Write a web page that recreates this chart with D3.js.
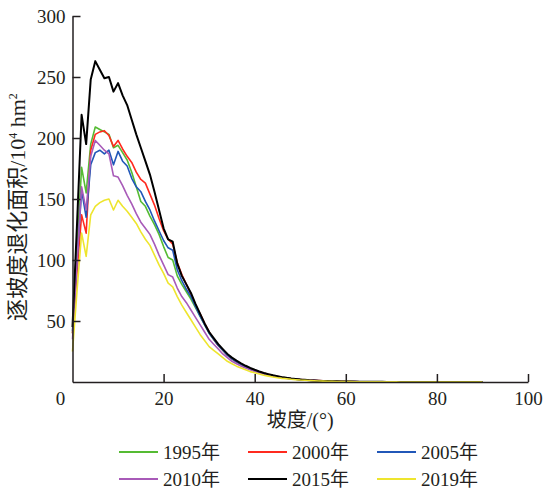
<!DOCTYPE html>
<html>
<head>
<meta charset="utf-8">
<script src="https://cdn.jsdelivr.net/npm/d3@7"></script>
<style>
  body { margin: 0; background: #fff; }
  svg { display: block; }
</style>
</head>
<body>
<svg id="chart" width="546" height="493"></svg>
<script>
  // slope in degrees, one point per degree
  const slopes = d3.range(0, 91);

  const years = ['1995年', '2000年', '2005年', '2010年', '2015年', '2019年'];
  const colors = ['#55bb33', '#ff2a1f', '#2157b8', '#a85ab8', '#000000', '#eee52e'];

  const v1995 = [40, 110, 176, 155, 195, 209, 207, 205, 203, 192,
    194, 188, 182, 172, 160, 148, 144, 136, 129, 121,
    111, 102, 100, 87, 80, 74, 68, 61, 54, 47,
    40, 35, 30, 26, 22, 19, 16.5, 14.5, 12.5, 11,
    9.5, 8.2, 7.1, 6.1, 5.2, 4.5, 3.8, 3.2, 2.7, 2.3,
    2.0, 1.7, 1.4, 1.2, 1.0, 0.85, 0.72, 0.62, 0.53, 0.45,
    0.38, 0.32, 0.27, 0.23, 0.2, 0.17, 0.15, 0.13, 0.11, 0.1,
    0.09, 0.08, 0.07, 0.06, 0.05, 0.05, 0.04, 0.04, 0.03, 0.03,
    0.03, 0.02, 0.02, 0.02, 0.02, 0.01, 0.01, 0.01, 0.01, 0.01, 0.01];

  const v2000 = [40, 90, 137, 122, 190, 203, 205, 206, 202, 193,
    198, 191, 185, 180, 172, 166, 163, 154, 145, 134,
    124, 117, 113, 98, 88, 80, 72, 63, 56, 48,
    41, 35, 30, 26, 22, 19, 16.5, 14.5, 12.5, 11,
    9.7, 8.4, 7.3, 6.3, 5.4, 4.6, 3.9, 3.3, 2.8, 2.4,
    2.1, 1.8, 1.5, 1.3, 1.1, 0.9, 0.78, 0.66, 0.56, 0.48,
    0.41, 0.35, 0.3, 0.26, 0.22, 0.19, 0.16, 0.14, 0.12, 0.1,
    0.09, 0.08, 0.07, 0.06, 0.05, 0.05, 0.04, 0.04, 0.03, 0.03,
    0.03, 0.02, 0.02, 0.02, 0.02, 0.01, 0.01, 0.01, 0.01, 0.01, 0.01];

  const v2005 = [42, 100, 157, 135, 178, 188, 190, 187, 190, 178,
    189, 181, 177, 167, 160, 156, 148, 141, 132, 124,
    116, 110, 108, 92, 83, 76, 70, 62, 54, 47,
    40, 35, 30, 26, 22, 19, 16.5, 14.5, 12.5, 11,
    9.5, 8.2, 7.1, 6.1, 5.2, 4.5, 3.8, 3.2, 2.7, 2.3,
    2.0, 1.7, 1.4, 1.2, 1.0, 0.85, 0.72, 0.62, 0.53, 0.45,
    0.38, 0.32, 0.27, 0.23, 0.2, 0.17, 0.15, 0.13, 0.11, 0.1,
    0.09, 0.08, 0.07, 0.06, 0.05, 0.05, 0.04, 0.04, 0.03, 0.03,
    0.03, 0.02, 0.02, 0.02, 0.02, 0.01, 0.01, 0.01, 0.01, 0.01, 0.01];

  const v2010 = [35, 100, 160, 141, 185, 198, 194, 190, 187, 169,
    168, 161, 153, 146, 138, 131, 126, 121, 113, 104,
    96, 88, 86, 77, 70, 65, 59, 53, 47, 41,
    35, 31, 27, 23, 20, 17, 15, 13, 11.5, 10,
    8.7, 7.5, 6.5, 5.6, 4.8, 4.1, 3.5, 3.0, 2.6, 2.2,
    1.9, 1.6, 1.4, 1.2, 1.0, 0.85, 0.72, 0.62, 0.53, 0.45,
    0.38, 0.32, 0.27, 0.23, 0.2, 0.17, 0.15, 0.13, 0.11, 0.1,
    0.09, 0.08, 0.07, 0.06, 0.05, 0.05, 0.04, 0.04, 0.03, 0.03,
    0.03, 0.02, 0.02, 0.02, 0.02, 0.01, 0.01, 0.01, 0.01, 0.01, 0.01];

  const v2015 = [45, 130, 219, 195, 248, 263, 256, 249, 250, 238,
    245, 235, 227, 215, 203, 192, 181, 170, 156, 141,
    126, 117, 115, 97, 87, 80, 73, 64, 56, 48,
    41, 36, 31, 27, 23, 20, 17.5, 15.3, 13.3, 11.5,
    10, 8.6, 7.4, 6.4, 5.5, 4.7, 4.0, 3.4, 2.9, 2.5,
    2.1, 1.8, 1.5, 1.3, 1.1, 0.9, 0.8, 0.7, 0.6, 0.5,
    0.42, 0.36, 0.3, 0.26, 0.22, 0.19, 0.16, 0.14, 0.12, 0.1,
    0.09, 0.08, 0.07, 0.06, 0.05, 0.05, 0.04, 0.04, 0.03, 0.03,
    0.03, 0.02, 0.02, 0.02, 0.02, 0.01, 0.01, 0.01, 0.01, 0.01, 0.01];

  const v2019 = [25, 75, 122, 103, 137, 144, 147, 149, 150, 141,
    149, 144, 140, 135, 130, 123, 117, 112, 104, 96,
    89, 81, 78, 70, 63, 57, 51, 45, 39, 34,
    29, 26, 23, 20, 17, 15, 13, 11.5, 10, 8.5,
    7.5, 6.5, 5.6, 4.8, 4.1, 3.5, 3.0, 2.6, 2.2, 1.9,
    1.6, 1.4, 1.2, 1.0, 0.85, 0.72, 0.62, 0.53, 0.45, 0.38,
    0.32, 0.27, 0.23, 0.2, 0.17, 0.15, 0.13, 0.11, 0.1, 0.09,
    0.08, 0.07, 0.06, 0.05, 0.05, 0.04, 0.04, 0.03, 0.03, 0.02,
    0.02, 0.02, 0.02, 0.01, 0.01, 0.01, 0.01, 0.01, 0.01, 0.01, 0.01];

  const xTicks = [20, 40, 60, 80, 100];
  const yTicks = [50, 100, 150, 200, 250, 300];

  const seriesValues = [v1995, v2000, v2005, v2010, v2015, v2019];

  const serif = '"Liberation Serif", "Times New Roman", serif';
  const cjk = '"Liberation Serif", "Noto Sans CJK SC", serif';
  const axisColor = '#231f20';

  const svg = d3.select('#chart');
  const margin = {top: 16, right: 18, bottom: 111, left: 72.5};
  const width = 546 - margin.left - margin.right;
  const height = 493 - margin.top - margin.bottom;

  const g = svg.append('g')
    .attr('transform', 'translate(' + margin.left + ',' + margin.top + ')');

  const x = d3.scaleLinear().domain([0, 100]).range([0, width]);
  const y = d3.scaleLinear().domain([0, 300]).range([height, 0]);

  const line = d3.line()
    .x((d) => x(d.s))
    .y((d) => y(d.v));

  const series = years.map((label, i) => ({
    label: label,
    color: colors[i],
    points: slopes.map((s, j) => ({s: s, v: seriesValues[i][j]})),
  }));

  g.append('g')
    .selectAll('path')
    .data(series)
    .enter().append('path')
    .attr('fill', 'none')
    .attr('stroke', (d) => d.color)
    .attr('stroke-width', (d) => d.color === '#000000' ? 2 : 1.6)
    .attr('stroke-linejoin', 'round')
    .attr('d', (d) => line(d.points));

  // axes, ticks pointing inward
  const xAxis = g.append('g')
    .attr('transform', 'translate(0,' + height + ')')
    .call(d3.axisBottom(x).tickValues(xTicks).tickSizeInner(-8).tickSizeOuter(0).tickPadding(10));

  const yAxis = g.append('g')
    .call(d3.axisLeft(y).tickValues(yTicks).tickSizeInner(-8).tickSizeOuter(0).tickPadding(7));

  [xAxis, yAxis].forEach((ax) => {
    ax.selectAll('path, line').attr('stroke', axisColor).attr('stroke-width', 1.5);
    ax.selectAll('text')
      .attr('fill', axisColor)
      .style('font-family', serif)
      .style('font-size', '19px');
  });

  // shared zero at the corner
  g.append('text')
    .attr('x', x(0) - 12)
    .attr('y', y(0) + 23)
    .attr('text-anchor', 'middle')
    .attr('fill', axisColor)
    .style('font-family', serif)
    .style('font-size', '19px')
    .text('0');

  g.append('text')
    .attr('x', width / 2)
    .attr('y', height + 45)
    .attr('text-anchor', 'middle')
    .attr('fill', axisColor)
    .style('font-family', cjk)
    .style('font-size', '20px')
    .text('坡度/(°)');

  const yTitle = svg.append('text')
    .attr('transform', 'translate(25,207) rotate(-90)')
    .attr('text-anchor', 'middle')
    .attr('fill', axisColor)
    .style('font-family', cjk)
    .style('font-size', '22px');
  yTitle.append('tspan').text('逐坡度退化面积/10');
  yTitle.append('tspan').attr('dy', -8).style('font-size', '12px').text('4');
  yTitle.append('tspan').attr('dy', 8).text(' hm');
  yTitle.append('tspan').attr('dy', -8).style('font-size', '12px').text('2');

  // legend: 3 columns, 2 rows
  const legend = svg.append('g')
    .selectAll('g')
    .data(series)
    .enter().append('g')
    .attr('transform', (d, i) => 'translate(' + (119 + (i % 3) * 129) + ',' + (452 + Math.floor(i / 3) * 27) + ')');

  legend.append('line')
    .attr('x1', 0)
    .attr('x2', 39)
    .attr('stroke', (d) => d.color)
    .attr('stroke-width', 2);

  legend.append('text')
    .attr('x', 44)
    .attr('y', 7)
    .attr('fill', axisColor)
    .style('font-family', cjk)
    .style('font-size', '19px')
    .text((d) => d.label);
</script>
</body>
</html>
